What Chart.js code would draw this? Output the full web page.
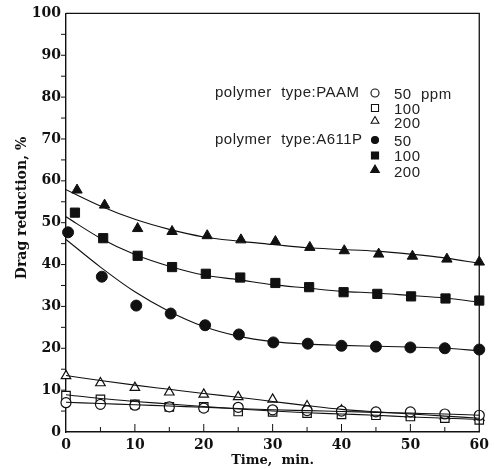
<!DOCTYPE html>
<html>
<head>
<meta charset="utf-8">
<script src="https://cdn.jsdelivr.net/npm/chart.js@4.4.0/dist/chart.umd.min.js"></script>
<style>
  body { margin: 0; background: #fff; }
</style>
</head>
<body>
<canvas id="chart1" width="494" height="469"></canvas>
<script>
// measured points (time in min, drag reduction in %)
const timeOpen = [0, 5, 10, 15, 20, 25, 30, 35, 40, 45, 50, 55, 60];
const timeCircle = [0.3, 5.2, 10.2, 15.2, 20.2, 25.1, 30.1, 35.1, 40, 45, 50, 55, 60];
const timeSquare = [1.3, 5.4, 10.4, 15.4, 20.3, 25.3, 30.4, 35.3, 40.3, 45.2, 50.1, 55.1, 60];
const timeTriangle = [1.6, 5.6, 10.4, 15.4, 20.5, 25.4, 30.4, 35.4, 40.4, 45.4, 50.3, 55.3, 60];

const paam50 = [7.0, 6.6, 6.4, 6.0, 5.7, 5.9, 5.3, 5.1, 5.0, 4.8, 4.8, 4.3, 4.0];
const paam100 = [8.7, 7.8, 6.6, 6.0, 6.0, 4.9, 4.8, 4.5, 4.2, 4.0, 3.7, 3.3, 2.9];
const paam200 = [13.4, 11.7, 10.6, 9.5, 9.0, 8.4, 7.8, 6.2, 5.2, 4.5, 4.2, 3.8, 3.4];
const a611p50 = [47.7, 37.1, 30.2, 28.3, 25.5, 23.3, 21.4, 21.1, 20.6, 20.4, 20.2, 20.0, 19.7];
const a611p100 = [52.4, 46.3, 42.1, 39.4, 37.8, 36.9, 35.6, 34.6, 33.4, 33.0, 32.4, 31.9, 31.4];
const a611p200 = [57.8, 54.2, 48.6, 47.9, 46.9, 45.9, 45.5, 44.1, 43.3, 42.5, 42.0, 41.3, 40.6];

// fitted curves
const fitTime = [0, 5, 10, 15, 20, 25, 30, 35, 40, 45, 50, 55, 60];
const fitPaam50 = [7.1, 6.8, 6.5, 6.2, 5.9, 5.6, 5.3, 5.1, 4.9, 4.7, 4.5, 4.3, 4.0];
const fitPaam100 = [8.9, 8.0, 7.3, 6.7, 6.1, 5.5, 5.0, 4.6, 4.3, 4.0, 3.6, 3.3, 3.0];
const fitPaam200 = [13.5, 12.3, 11.2, 10.2, 9.2, 8.3, 7.3, 6.3, 5.4, 4.8, 4.3, 3.8, 3.3];
const fitA611p50 = [46.0, 39.4, 33.5, 28.8, 25.2, 22.9, 21.6, 21.0, 20.7, 20.5, 20.3, 20.0, 19.4];
const fitA611p100 = [51.4, 46.3, 42.4, 39.6, 37.5, 36.4, 35.2, 34.4, 33.6, 33.2, 32.6, 32.0, 31.0];
const fitA611p200 = [57.9, 54.0, 50.8, 48.4, 46.6, 45.6, 44.8, 44.0, 43.6, 43.2, 42.5, 41.6, 40.3];

const groupLabels = ["polymer  type:PAAM", "polymer  type:A611P"];
const legendLabels = ["50  ppm", "100", "200", "50", "100", "200"];

const ink = "#111";
const serif = "'DejaVu Serif', serif";

function points(xs, ys) {
  return xs.map((x, i) => ({ x: x, y: ys[i] }));
}

function fitLine(ys) {
  return {
    data: points(fitTime, ys),
    showLine: true,
    pointRadius: 0,
    borderColor: ink,
    borderWidth: 1.1,
    cubicInterpolationMode: "monotone",
  };
}

function markers(xs, ys, style, radius, filled) {
  return {
    data: points(xs, ys),
    pointStyle: style,
    pointRadius: radius,
    backgroundColor: filled ? ink : "#fff",
    borderColor: ink,
    borderWidth: filled ? 1 : 1.2,
    clip: false,
  };
}

// legend markers: [style, radius, filled]
const legendMarks = [
  ["circle", 4, false],
  ["rect", 5, false],
  ["triangle", 4.5, false],
  ["circle", 3.5, true],
  ["rect", 5, true],
  ["triangle", 5, true],
];

const paperMarks = {
  id: "paperMarks",
  afterDatasetsDraw(chart) {
    const { ctx, chartArea: a, scales } = chart;
    ctx.save();
    ctx.strokeStyle = ink;
    ctx.lineWidth = 1.3;
    ctx.beginPath();
    ctx.moveTo(a.left, a.top);
    ctx.lineTo(a.right, a.top);
    ctx.lineTo(a.right, a.bottom);
    ctx.stroke();

    // ticks every 5 units
    ctx.lineWidth = 1;
    ctx.beginPath();
    for (let v = 5; v < 60; v += 5) {
      const x = scales.x.getPixelForValue(v);
      const len = v % 10 === 0 ? 8 : 5;
      ctx.moveTo(x, a.bottom);
      ctx.lineTo(x, a.bottom - len);
    }
    for (let v = 5; v < 100; v += 5) {
      const y = scales.y.getPixelForValue(v);
      ctx.moveTo(a.left, y);
      ctx.lineTo(a.left - 5, y);
    }
    ctx.stroke();

    // y axis title
    ctx.fillStyle = ink;
    ctx.font = "bold 14px " + serif;
    ctx.textAlign = "center";
    ctx.textBaseline = "middle";
    ctx.save();
    ctx.translate(22, 208);
    ctx.rotate(-Math.PI / 2);
    ctx.fillText("Drag reduction, %", 0, 0);
    ctx.restore();

    // legend block
    ctx.fillStyle = "#222";
    ctx.font = "15px 'Liberation Sans', sans-serif";
    ctx.letterSpacing = "0.5px";
    ctx.textAlign = "left";
    ctx.fillText(groupLabels[0], 215, 93);
    ctx.fillText(groupLabels[1], 215, 140);
    const markY = [93, 108, 121, 140, 155.5, 170];
    const textY = [95, 110, 124, 142, 157, 173];
    legendMarks.forEach((m, i) => {
      ctx.fillStyle = m[2] ? ink : "#fff";
      ctx.strokeStyle = ink;
      ctx.lineWidth = 1.1;
      Chart.helpers.drawPoint(ctx, { pointStyle: m[0], radius: m[1], rotation: 0, borderWidth: 1.1 }, 375, markY[i]);
      ctx.fillStyle = "#222";
      ctx.fillText(legendLabels[i], 394, textY[i]);
    });
    ctx.restore();
  },
};

const ctx = document.getElementById("chart1").getContext("2d");
const myChart = new Chart(ctx, {
  type: "scatter",
  data: {
    datasets: [
      fitLine(fitPaam50),
      fitLine(fitPaam100),
      fitLine(fitPaam200),
      fitLine(fitA611p50),
      fitLine(fitA611p100),
      fitLine(fitA611p200),
      markers(timeOpen, paam50, "circle", 5, false),
      markers(timeOpen, paam100, "rect", 6, false),
      markers(timeOpen, paam200, "triangle", 5.5, false),
      markers(timeCircle, a611p50, "circle", 5.5, true),
      markers(timeSquare, a611p100, "rect", 6.5, true),
      markers(timeTriangle, a611p200, "triangle", 6, true),
    ],
  },
  options: {
    responsive: false,
    animation: false,
    layout: {
      padding: { left: 0, right: 9, top: 12, bottom: 0 },
    },
    plugins: {
      legend: { display: false },
      tooltip: { enabled: false },
    },
    scales: {
      x: {
        type: "linear",
        min: 0,
        max: 60,
        afterFit: (scale) => {
          scale.height = 37;
        },
        grid: { display: false, drawTicks: false },
        border: { display: true, color: ink, width: 1.4 },
        ticks: {
          stepSize: 10,
          padding: 5,
          color: ink,
          font: { family: serif, size: 14, weight: "bold" },
        },
        title: {
          display: true,
          text: "Time,  min.",
          color: ink,
          padding: { top: 0, bottom: 1 },
          font: { family: serif, size: 13, weight: "bold" },
        },
      },
      y: {
        min: 0,
        max: 100,
        afterFit: (scale) => {
          scale.width = 66;
        },
        grid: { display: false, drawTicks: false },
        border: { display: true, color: ink, width: 1.4 },
        ticks: {
          stepSize: 10,
          padding: 5,
          color: ink,
          font: { family: serif, size: 14, weight: "bold" },
        },
      },
    },
  },
  plugins: [paperMarks],
});
</script>
</body>
</html>
